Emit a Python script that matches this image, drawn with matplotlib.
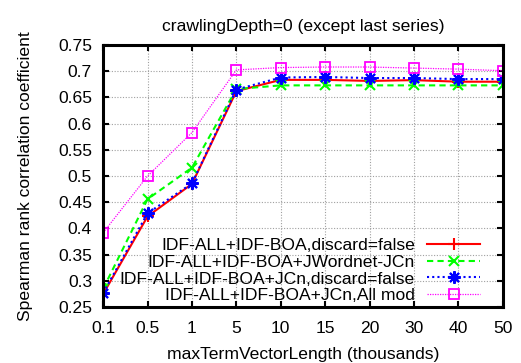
import numpy as np
import matplotlib
matplotlib.use('Agg')
import matplotlib.pyplot as plt

plt.rcParams['font.family'] = ['Liberation Sans', 'DejaVu Sans']

# Data
x_labels = ['0.1', '0.5', '1', '5', '10', '15', '20', '30', '40', '50']
discard_false = [0.275, 0.423, 0.485, 0.662, 0.6835, 0.6835, 0.6815, 0.683, 0.680, 0.680]
jwordnet_jcn = [0.285, 0.456, 0.516, 0.666, 0.673, 0.673, 0.673, 0.673, 0.673, 0.673]
jcn_discard = [0.277, 0.429, 0.486, 0.665, 0.688, 0.689, 0.687, 0.687, 0.685, 0.685]
jcn_all_mod = [0.392, 0.500, 0.583, 0.7025, 0.707, 0.708, 0.708, 0.706, 0.704, 0.701]

series_names = ['IDF-ALL+IDF-BOA,discard=false',
                'IDF-ALL+IDF-BOA+JWordnet-JCn',
                'IDF-ALL+IDF-BOA+JCn,discard=false',
                'IDF-ALL+IDF-BOA+JCn,All mod']

fs = 12.6

fig = plt.figure(figsize=(5.21, 3.63), dpi=100)
ax = fig.add_axes([0.198, 0.154, 0.767, 0.722])

xs = np.arange(len(x_labels))
ax.plot(xs, discard_false, color='#ff0000', lw=1.5, ls='-',
        marker='+', ms=9, mew=1.5, label=series_names[0])
ax.plot(xs, jwordnet_jcn, color='#00ff00', lw=1.5, ls=(0, (3, 2)),
        marker='x', ms=7.5, mew=1.5, label=series_names[1])
ax.plot(xs, jcn_discard, color='#0000ff', lw=1.5, ls=(0, (1, 1.5)),
        marker=(8, 2, 0), ms=9, mew=1.5, label=series_names[2])
ax.plot(xs, jcn_all_mod, color='#ff00ff', lw=0.9, ls=(0, (1, 1)),
        marker='s', ms=7.5, mew=1.3, mfc='none', label=series_names[3])

ax.set_xlim(0, len(x_labels) - 1)
ax.set_ylim(0.25, 0.75)
ax.set_xticks(xs)
ax.set_xticklabels(x_labels)
ax.set_yticks(np.arange(0.25, 0.751, 0.05))
ax.set_yticklabels(['0.25', '0.3', '0.35', '0.4', '0.45', '0.5',
                    '0.55', '0.6', '0.65', '0.7', '0.75'])
ax.tick_params(direction='in', length=4, width=1.5, labelsize=fs,
               top=True, right=True, pad=8)
ax.tick_params(axis='x', pad=10)
ax.grid(True, color='#a0a0a0', ls=(0, (1, 1.5)), lw=0.8)
for sp in ax.spines.values():
    sp.set_linewidth(2.2)

ax.set_xlabel('maxTermVectorLength (thousands)', fontsize=fs, labelpad=8)
ax.set_ylabel('Spearman rank correlation coefficient', fontsize=fs, labelpad=18)
ax.set_title('crawlingDepth=0 (except last series)', fontsize=fs, pad=10)

leg = ax.legend(loc='lower right', bbox_to_anchor=(0.9425, 0.015),
                frameon=False, markerfirst=False, fontsize=fs,
                handlelength=3.0, labelspacing=0.08, borderaxespad=0,
                borderpad=0, handletextpad=0.7)
for t in leg.get_texts():
    t.set_ha('right')
leg._legend_box.align = 'right'

fig.savefig('out.png', dpi=100)
